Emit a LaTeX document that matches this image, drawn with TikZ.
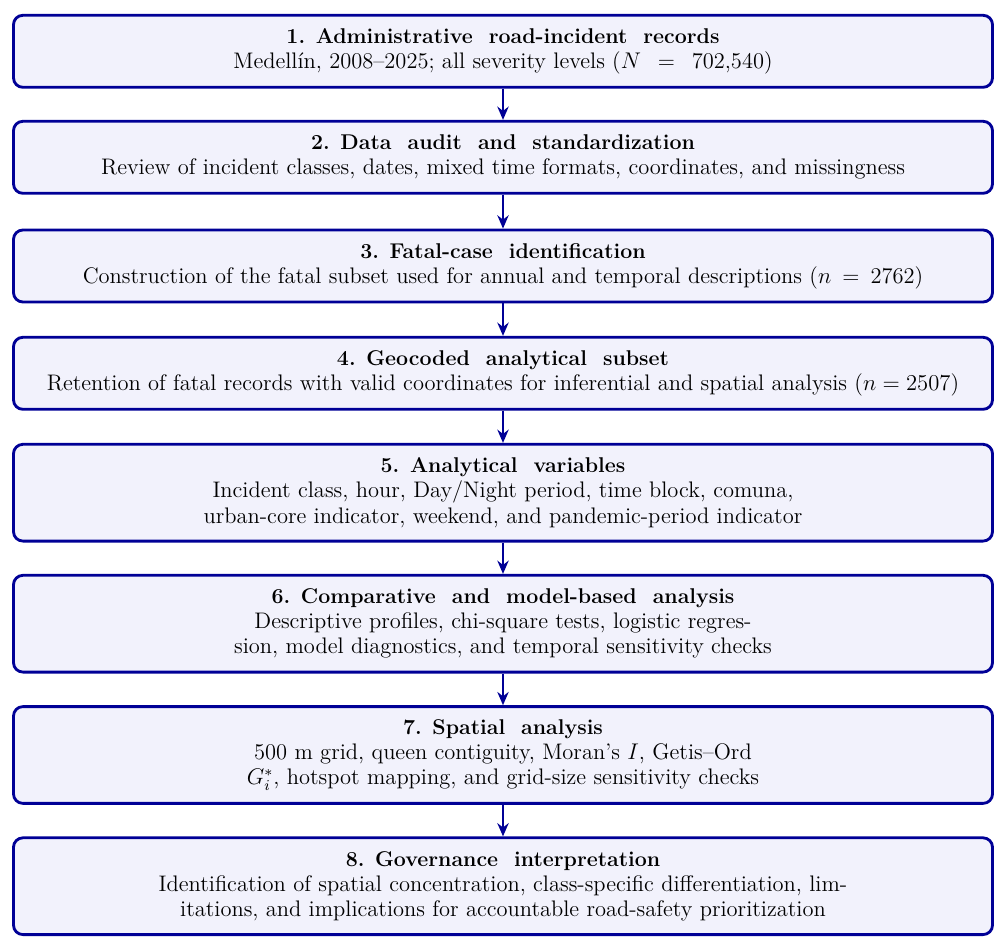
\documentclass[tikz,border=0pt]{standalone}
\usetikzlibrary{arrows.meta}
\definecolor{stepblue}{RGB}{0,0,150}
\definecolor{stepfill}{RGB}{242,242,252}
\newcommand{\gap}{\hspace{0.75em}}
\newcommand{\steptitle}[1]{{\fontsize{11.3}{13.2}\selectfont\bfseries #1}}
\tikzset{
  stepbox/.style={draw=stepblue,fill=stepfill,line width=1.5pt,rounded corners=5pt,
    minimum width=18.21cm,align=center,inner sep=2pt,font=\fontsize{11.9}{13.3}\selectfont},
  shortbox/.style={stepbox,minimum height=1.34cm},
  tallbox/.style={stepbox,minimum height=1.8cm},
  flow/.style={draw=stepblue,line width=1.1pt,-{Stealth[length=7pt,width=6pt]}}
}
\begin{document}
\begin{tikzpicture}[x=0.0186cm,y=-0.0186cm]
\useasboundingbox (0,0) rectangle (1006,949);

\node[shortbox] (s1) at (503,51.3) {\steptitle{1. Administrative\gap road-incident\gap records}\\
  Medellín, 2008--2025; all severity levels ($N$\gap=\gap 702,540)};
\node[shortbox] (s2) at (503,157.3) {\steptitle{2. Data\gap audit\gap and\gap standardization}\\
  Review of incident classes, dates, mixed time formats, coordinates, and missingness};
\node[shortbox] (s3) at (503,266) {\steptitle{3. Fatal-case\gap identification}\\
  Construction of the fatal subset used for annual and temporal descriptions ($n$ \,=\, 2762)};
\node[shortbox] (s4) at (503,373.3) {\steptitle{4. Geocoded\gap analytical\gap subset}\\
  Retention of fatal records with valid coordinates for inferential and spatial analysis ($n = 2507$)};
\node[tallbox] (s5) at (503,492.7) {\steptitle{5. Analytical\gap variables}\\
  Incident class, hour, Day/Night period, time block, comuna,\\
  urban-core indicator, weekend, and pandemic-period indicator};
\node[tallbox] (s6) at (503,623.7) {\steptitle{6. Comparative\gap and\gap model-based\gap analysis}\\
  Descriptive profiles, chi-square tests, logistic regres-\\
  sion, model diagnostics, and temporal sensitivity checks};
\node[tallbox] (s7) at (503,755) {\steptitle{7. Spatial\gap analysis}\\
  500 m grid, queen contiguity, Moran's $I$, Getis--Ord\\
  $G_i^*$, hotspot mapping, and grid-size sensitivity checks};
\node[tallbox] (s8) at (503,886.2) {\steptitle{8. Governance\gap interpretation}\\
  Identification of spatial concentration, class-specific differentiation, lim-\\
  itations, and implications for accountable road-safety prioritization};

% arrows
\foreach \a/\b in {s1/s2,s2/s3,s3/s4,s4/s5,s5/s6,s6/s7,s7/s8}
  \draw[flow] (\a) -- (\b);

\end{tikzpicture}
\end{document}
